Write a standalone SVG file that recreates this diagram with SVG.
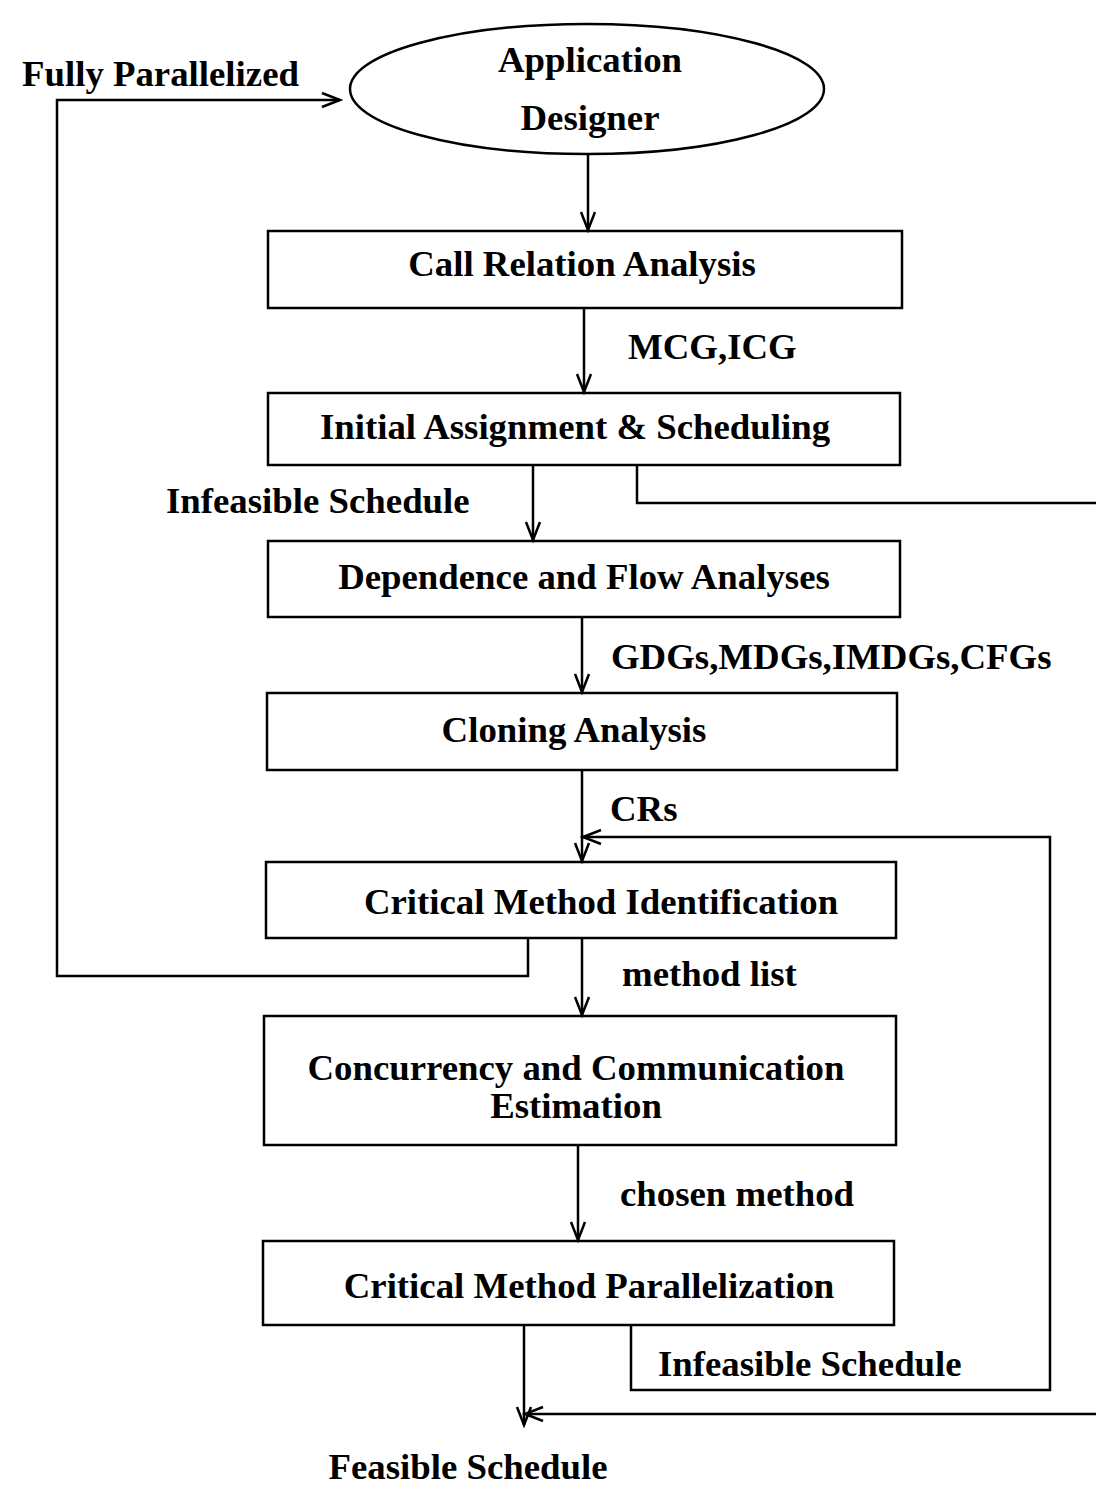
<svg xmlns="http://www.w3.org/2000/svg" width="1096" height="1500" viewBox="0 0 1096 1500">
<style>
.box{fill:#fff;stroke:#000;stroke-width:2.5}
.t{font-family:"Liberation Serif","Times New Roman",serif;font-weight:bold;font-size:36.8px;fill:#000}
.c{text-anchor:middle}
.ln{fill:none;stroke:#000;stroke-width:2.5}
</style>
<defs>
<marker id="ah" markerUnits="userSpaceOnUse" markerWidth="24" markerHeight="20" refX="20" refY="8" orient="auto" viewBox="0 0 24 16">
<path d="M2,1 L20,8 L2,15" fill="none" stroke="#000" stroke-width="2.5"/>
</marker>
</defs>
<rect width="1096" height="1500" fill="#fff"/>

<g id="n_designer">
<ellipse cx="587" cy="89" rx="237" ry="65" class="box"/>
<text x="590" y="72" class="t c">Application</text>
<text x="590" y="130" class="t c">Designer</text>
</g>
<g id="n_call">
<rect x="268" y="231" width="634" height="77" class="box"/>
<text x="582" y="276" class="t c">Call Relation Analysis</text>
</g>
<g id="n_init">
<rect x="268" y="393" width="632" height="72" class="box"/>
<text x="575" y="439" class="t c">Initial Assignment &amp; Scheduling</text>
</g>
<g id="n_dep">
<rect x="268" y="541" width="632" height="76" class="box"/>
<text x="584" y="589" class="t c">Dependence and Flow Analyses</text>
</g>
<g id="n_clone">
<rect x="267" y="693" width="630" height="77" class="box"/>
<text x="574" y="742" class="t c">Cloning Analysis</text>
</g>
<g id="n_crit">
<rect x="266" y="862" width="630" height="76" class="box"/>
<text x="601" y="914" class="t c">Critical Method Identification</text>
</g>
<g id="n_conc">
<rect x="264" y="1016" width="632" height="129" class="box"/>
<text x="576" y="1080" class="t c">Concurrency and Communication</text>
<text x="576" y="1118" class="t c">Estimation</text>
</g>
<g id="n_par">
<rect x="263" y="1241" width="631" height="84" class="box"/>
<text x="589" y="1298" class="t c">Critical Method Parallelization</text>
</g>

<g id="connectors">
<path class="ln" d="M588,155 L588,230" marker-end="url(#ah)"/>
<path class="ln" d="M584,308 L584,392" marker-end="url(#ah)"/>
<path class="ln" d="M533,465 L533,540" marker-end="url(#ah)"/>
<path class="ln" d="M637,465 L637,503 L1096,503"/>
<path class="ln" d="M582,617 L582,692" marker-end="url(#ah)"/>
<path class="ln" d="M582,770 L582,861" marker-end="url(#ah)"/>
<path class="ln" d="M631,1325 L631,1390 L1050,1390 L1050,837 L583,837" marker-end="url(#ah)"/>
<path class="ln" d="M528,938 L528,976 L57,976 L57,100 L340,100" marker-end="url(#ah)"/>
<path class="ln" d="M582,938 L582,1015" marker-end="url(#ah)"/>
<path class="ln" d="M578,1145 L578,1240" marker-end="url(#ah)"/>
<path class="ln" d="M524,1325 L524,1425" marker-end="url(#ah)"/>
<path class="ln" d="M1096,1414 L525,1414" marker-end="url(#ah)"/>
</g>

<g id="labels">
<text x="22" y="86" class="t">Fully Parallelized</text>
<text x="628" y="359" class="t">MCG,ICG</text>
<text x="166" y="513" class="t">Infeasible Schedule</text>
<text x="611" y="669" class="t">GDGs,MDGs,IMDGs,CFGs</text>
<text x="610" y="821" class="t">CRs</text>
<text x="622" y="986" class="t">method list</text>
<text x="620" y="1206" class="t">chosen method</text>
<text x="658" y="1376" class="t">Infeasible Schedule</text>
<text x="468" y="1479" class="t c">Feasible Schedule</text>
</g>
</svg>
